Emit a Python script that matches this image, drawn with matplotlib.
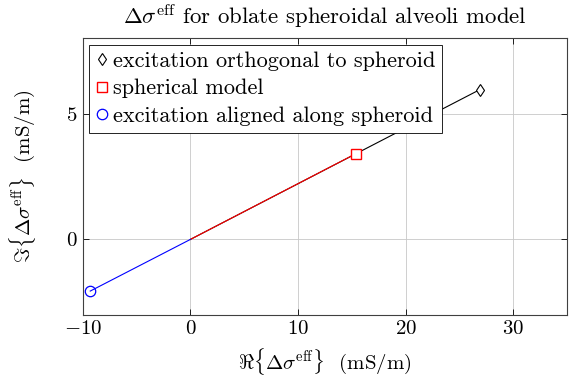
import matplotlib
matplotlib.use("Agg")
import matplotlib.pyplot as plt

plt.rcParams['font.family'] = 'serif'
plt.rcParams['font.serif'] = ['cmr10']
plt.rcParams['mathtext.fontset'] = 'cm'
plt.rcParams['axes.formatter.use_mathtext'] = True
plt.rcParams['font.size'] = 15

# endpoints of each series (start at the origin)
orth_re = [0.0, 26.9]
orth_im = [0.0, 5.95]
sph_re = [0.0, 15.4]
sph_im = [0.0, 3.41]
align_re = [0.0, -9.3]
align_im = [0.0, -2.05]

labels = ['excitation orthogonal to spheroid', 'spherical model',
          'excitation aligned along spheroid']

fig = plt.figure(figsize=(5.69, 3.77), dpi=100)
ax = fig.add_axes([82.7 / 569, 1 - 315 / 377, (567 - 82.7) / 569, (315 - 38) / 377])

ax.plot(orth_re, orth_im, color='black', lw=0.8, zorder=2)
ax.plot(sph_re, sph_im, color='red', lw=0.8, zorder=2.1)
ax.plot(align_re, align_im, color='blue', lw=0.8, zorder=2.1)

h1, = ax.plot(orth_re[-1:], orth_im[-1:], 'd', mfc='white', mec='black', ms=6, mew=0.8, zorder=3)
h2, = ax.plot(sph_re[-1:], sph_im[-1:], 's', mfc='white', mec='red', ms=7.5, mew=1.0, zorder=3)
h3, = ax.plot(align_re[-1:], align_im[-1:], 'o', mfc='none', mec='blue', ms=7.5, mew=0.9, zorder=3)

ax.set_xlim(-10, 35)
ax.set_ylim(-3, 8)
ax.set_xticks([-10, 0, 10, 20, 30])
ax.set_yticks([0, 5])
ax.grid(True, color='#c8c8c8', lw=0.6)
ax.set_axisbelow(True)
ax.tick_params(direction='in', top=True, right=True, length=4, width=0.6, labelsize=15)
for s in ax.spines.values():
    s.set_linewidth(0.8)
    s.set_color('#404040')

ax.text(0.5, (315 - 17) / (315 - 38) + 0.0,
        r'$\Delta\sigma^{\mathrm{eff}}$ for oblate spheroidal alveoli model',
        transform=ax.transAxes, fontsize=16.4, ha='center', va='center')
ax.set_xlabel(r'$\Re\{\Delta\sigma^{\mathrm{eff}}\}$  (mS/m)', fontsize=15, labelpad=6)
ax.set_ylabel(r'$\Im\{\Delta\sigma^{\mathrm{eff}}\}$  (mS/m)', fontsize=15)
ax.yaxis.set_label_coords(-0.092, 0.5)

leg = ax.legend([h1, h2, h3], labels, loc='upper left', fontsize=16,
                fancybox=False, edgecolor='black', framealpha=1,
                handlelength=0.5, handletextpad=0.25, borderaxespad=0.3,
                labelspacing=0.36, borderpad=0.3)
leg.get_frame().set_linewidth(0.6)

fig.savefig('out.png', dpi=100)
